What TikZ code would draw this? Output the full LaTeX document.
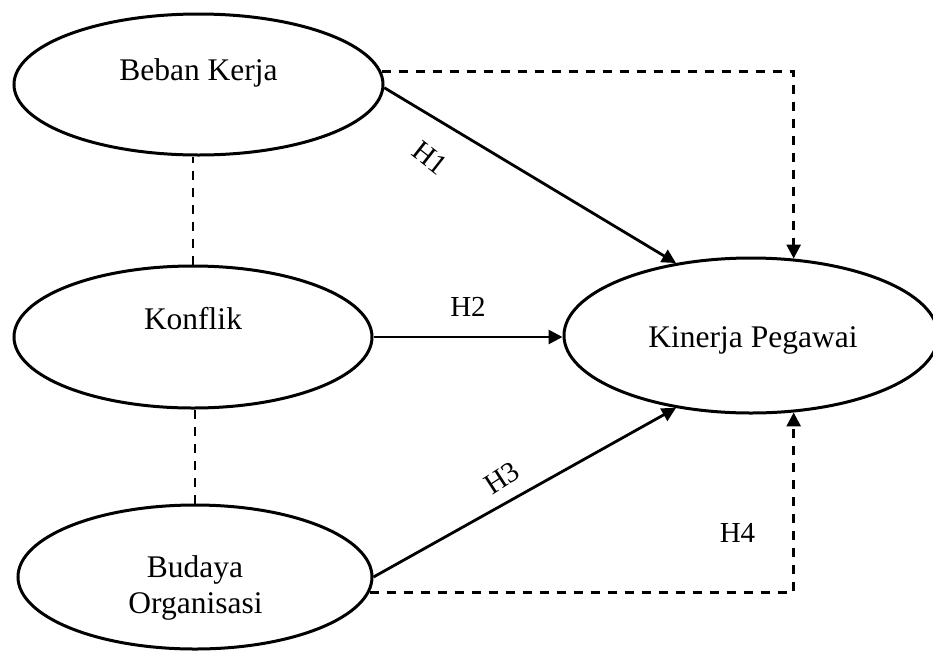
\documentclass[tikz,border=0pt]{standalone}
\usepackage{fontspec}
\setmainfont{Liberation Serif}
\usetikzlibrary{shapes.geometric,arrows.meta}
\begin{document}
\begin{tikzpicture}[x=1pt,y=-1pt,
 latent/.style={draw, ellipse, line width=3pt, inner sep=0pt},
 lbl/.style={font=\fontsize{31.5}{36}\selectfont, inner sep=0pt, align=center},
 hyp/.style={font=\fontsize{29}{34}\selectfont, inner sep=0pt},
 effect/.style={line width=2.8pt, -{Triangle[length=14pt,width=14pt]}},
 deffect/.style={effect, dash pattern=on 9pt off 8pt},
 link/.style={line width=2.8pt, dash pattern=on 9pt off 8pt}]
\useasboundingbox (0,0) rectangle (933,654);
\clip (0,0) rectangle (933,654);
\node[latent, minimum width=369pt, minimum height=141pt] (beban) at (198.5,84.5) {};
\node[latent, minimum width=358pt, minimum height=142pt] (konflik) at (193,337) {};
\node[latent, minimum width=354pt, minimum height=144pt] (budaya) at (195,577) {};
\node[latent, minimum width=374pt, minimum height=155pt] (kin) at (751,335.5) {};
\node[lbl, anchor=base] (tbeban) at (198.5,80) {Beban Kerja};
\node[lbl, anchor=base] (tkonflik) at (193,329) {Konflik};
\node[lbl, anchor=base] (tkin) at (753,347) {Kinerja Pegawai};
\node[lbl, anchor=base] (tbud1) at (195,577) {Budaya};
\node[lbl, anchor=base] (tbud2) at (195.5,613) {Organisasi};
\draw[effect] (beban.-1) -- (kin.136);
\draw[effect] (konflik.east) -- (konflik.east -| kin.west);
\draw[effect] (budaya.east) -- (kin.224);
\draw[deffect] (beban.4) -| (kin.61);
\draw[deffect] (budaya.-5.5) -| (kin.-61);
\draw[link] (konflik.north) -- (konflik.north |- beban.south);
\draw[link] (budaya.north) -- (budaya.north |- konflik.south);
\node[hyp, rotate=-38] (h1) at (430,158) {H1};
\node[hyp] (h2) at (468,307) {H2};
\node[hyp, rotate=33] (h3) at (502,478) {H3};
\node[hyp] (h4) at (737.5,533) {H4};
\end{tikzpicture}
\end{document}
